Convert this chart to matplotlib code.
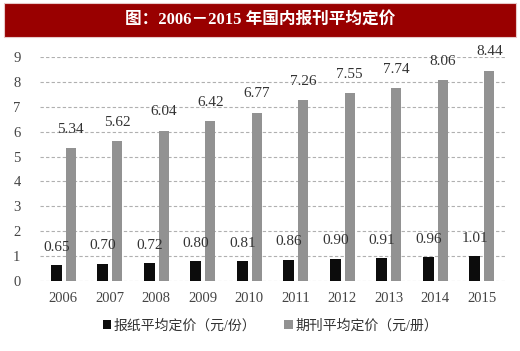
import numpy as np
import matplotlib
matplotlib.use('Agg')
import matplotlib.pyplot as plt
from matplotlib.patches import Rectangle

plt.rcParams['font.family'] = ['Liberation Serif', 'Noto Sans CJK SC', 'DejaVu Sans']

# data
years = ['2006', '2007', '2008', '2009', '2010', '2011', '2012', '2013', '2014', '2015']
newspaper = [0.65, 0.70, 0.72, 0.80, 0.81, 0.86, 0.90, 0.91, 0.96, 1.01]
periodical = [5.34, 5.62, 6.04, 6.42, 6.77, 7.26, 7.55, 7.74, 8.06, 8.44]
series_names = ['报纸平均定价（元/份）', '期刊平均定价（元/册）']
title = '图：2006－2015 年国内报刊平均定价'

fig = plt.figure(figsize=(5.2, 3.51), dpi=100)
fig.patch.set_facecolor('white')

# red title bar
fig.patches.append(Rectangle((4 / 520, 1 - 37 / 351), 512 / 520, 34 / 351,
                             transform=fig.transFigure, facecolor='#990000',
                             edgecolor='#e8c8c8', linewidth=0.8, zorder=0))
fig.text(0.5, 1 - 20 / 351, title, color='white', fontsize=12, fontweight='bold',
         ha='center', va='center')

ax = fig.add_axes([40 / 520, 70 / 351, 465 / 520, 224 / 351])
x = np.arange(len(years))
w = 0.23
b1 = ax.bar(x - 0.15, newspaper, w, color='#0c0c0c', label=series_names[0], zorder=3)
b2 = ax.bar(x + 0.16, periodical, w * 0.92, color='#929292', label=series_names[1], zorder=3)

for rect, v in zip(b1, newspaper):
    ax.annotate('%.2f' % v, (rect.get_x() + rect.get_width() / 2, v), xytext=(0, 8),
                textcoords='offset points', ha='center', va='bottom', fontsize=11, color='#333333')
for rect, v in zip(b2, periodical):
    ax.annotate('%.2f' % v, (rect.get_x() + rect.get_width() / 2, v), xytext=(0, 9),
                textcoords='offset points', ha='center', va='bottom', fontsize=11, color='#333333')

ax.set_xlim(-0.5, len(years) - 0.5)
ax.set_ylim(0, 9)
ax.set_yticks(range(0, 10))
ax.set_xticks(x)
ax.set_xticklabels(years)
ax.tick_params(length=0, labelsize=10.5, colors='#444444')
ax.tick_params(axis='x', pad=8)
ax.tick_params(axis='y', pad=14)
ax.grid(axis='y', color='#b0b0b0', linestyle=(0, (3, 2)), linewidth=0.8, zorder=0)
for s in ax.spines.values():
    s.set_visible(False)

fig.legend(handles=[b1, b2], labels=series_names, loc='center', bbox_to_anchor=(0.52, 1 - 326 / 351),
           ncol=2, frameon=False, fontsize=10, handlelength=0.6, handleheight=0.6,
           handletextpad=0.2, columnspacing=2.0, labelcolor='#333333')

fig.savefig('out.png', dpi=100)
